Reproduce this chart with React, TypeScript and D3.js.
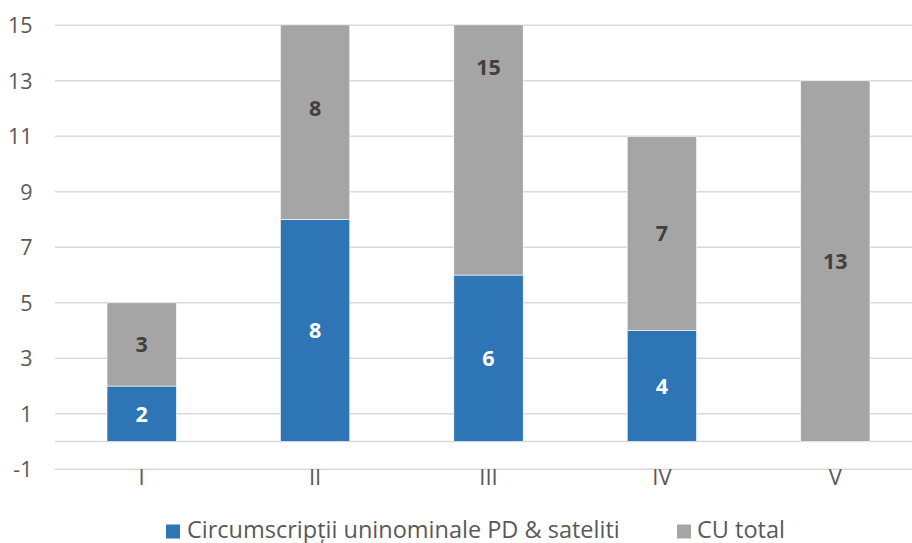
import React from "react";
import * as d3 from "d3";

const categories = ["I", "II", "III", "IV", "V"];
const pdValues = [2, 8, 6, 4, 0];
const cuValues = [3, 8, 15, 7, 13];
const yTicks = [-1, 1, 3, 5, 7, 9, 11, 13, 15];
const seriesNames = ["Circumscripții uninominale PD & sateliti", "CU total"];
const colors = ["#2E75B6", "#A5A5A5"];

const W = 912;
const H = 543;

export default function App() {
  const x = d3.scaleBand<string>().domain(categories).range([55, 922]).paddingInner(0.6).paddingOuter(0.3);
  const y = d3.scaleLinear().domain([-1, 15]).range([469.3, 25.3]);
  const font = "'Open Sans', 'Noto Sans', sans-serif";
  const rows = categories.map((c, i) => ({ c, pd: pdValues[i], cu: cuValues[i] }));
  const stack = d3.stack<any>().keys(["pd", "cu"])(rows);

  return (
    <svg width={W} height={H} style={{ position: "absolute", left: 0, top: 0, display: "block", background: "#fff" }}>
      <defs>
        <clipPath id="plot">
          <rect x={55} y={y(15)} width={W - 55} height={y(-1) - y(15)} />
        </clipPath>
      </defs>
      {yTicks.map((t) => (
        <g key={t}>
          <line x1={55} x2={W} y1={y(t)} y2={y(t)} stroke="#D9D9D9" strokeWidth={1.4} />
          <text x={32.5} y={y(t)} dy="0.36em" textAnchor="end" fontFamily={font} fontSize={21.5} fill="#595959">
            {t}
          </text>
        </g>
      ))}
      <line x1={55} x2={W} y1={y(0)} y2={y(0)} stroke="#D9D9D9" strokeWidth={1.4} />
      <g clipPath="url(#plot)">
        {stack.map((s, si) =>
          s.map((d, i) => (
            <rect
              key={`${si}-${i}`}
              x={x(categories[i])}
              width={x.bandwidth()}
              y={y(d[1])}
              height={Math.max(0, y(d[0]) - y(d[1]))}
              fill={colors[si]}
              stroke="#fff"
              strokeWidth={0.6}
            />
          ))
        )}
      </g>
      {stack.map((s, si) =>
        s.map((d, i) => {
          const v = d[1] - d[0];
          if (!v) return null;
          return (
            <text
              key={`l${si}-${i}`}
              x={(x(categories[i]) as number) + x.bandwidth() / 2}
              y={y((d[0] + d[1]) / 2)}
              dy="0.36em"
              textAnchor="middle"
              fontFamily={font}
              fontWeight="bold"
              fontSize={21.5}
              fill={si === 0 ? "#FFFFFF" : "#404040"}
            >
              {v}
            </text>
          );
        })
      )}
      {categories.map((c) => (
        <text key={c} x={(x(c) as number) + x.bandwidth() / 2} y={484.5} textAnchor="middle" fontFamily={font} fontSize={22} fill="#595959">
          {c}
        </text>
      ))}
      <g>
        <rect x={166} y={524.5} width={14} height={14} fill={colors[0]} />
        <text x={187} y={537.5} fontFamily={font} fontSize={23.5} fill="#595959">
          {seriesNames[0]}
        </text>
        <rect x={677} y={524.5} width={14} height={14} fill={colors[1]} />
        <text x={697} y={537.5} fontFamily={font} fontSize={23.5} fill="#595959">
          {seriesNames[1]}
        </text>
      </g>
    </svg>
  );
}
